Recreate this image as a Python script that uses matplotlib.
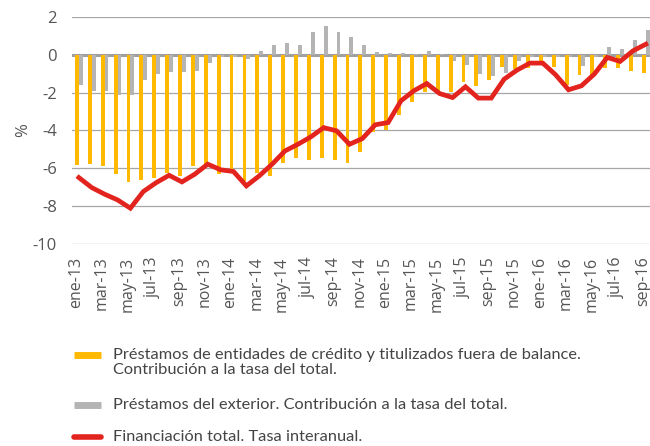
import matplotlib
matplotlib.use("Agg")
import matplotlib.pyplot as plt
import matplotlib.transforms as mtransforms
import numpy as np
from matplotlib.lines import Line2D

plt.rcParams['font.family'] = ['Lato', 'DejaVu Sans']
plt.rcParams['axes.unicode_minus'] = False

# monthly data, ene-13 .. sep-16
meses = ['ene', 'feb', 'mar', 'abr', 'may', 'jun', 'jul', 'ago', 'sep', 'oct', 'nov', 'dic']
months = [f'{m}-{y}' for y in (13, 14, 15, 16) for m in meses][:45]

credito = [-5.82, -5.75, -5.90, -6.31, -6.72, -6.61, -6.52, -6.23, -6.42, -5.90, -5.78, -6.31,
           -6.05, -6.67, -6.26, -6.40, -5.73, -5.43, -5.54, -5.43, -5.54, -5.73, -5.13, -4.06,
           -3.95, -3.19, -2.49, -1.95, -1.90, -1.99, -1.46, -1.64, -1.32, -0.62, -0.76, -0.72,
           -0.32, -0.63, -1.60, -1.05, -1.10, -0.72, -0.72, -0.85, -0.94]
exterior = [-1.60, -1.90, -1.90, -2.10, -2.10, -1.32, -1.02, -0.93, -0.93, -0.85, -0.44, -0.14,
            -0.14, -0.20, 0.21, 0.53, 0.63, 0.53, 1.22, 1.52, 1.22, 0.92, 0.53, 0.14,
            0.10, 0.10, 0.02, 0.21, 0.02, -0.35, -0.55, -1.02, -1.13, -0.94, -0.32, -0.14,
            -0.14, -0.14, -0.14, -0.58, -0.14, 0.42, 0.30, 0.80, 1.30]
total = [-6.49, -7.02, -7.37, -7.67, -8.11, -7.23, -6.76, -6.37, -6.72, -6.31, -5.78, -6.08,
         -6.17, -6.93, -6.40, -5.78, -5.08, -4.73, -4.34, -3.85, -4.02, -4.73, -4.43, -3.70,
         -3.58, -2.43, -1.90, -1.52, -2.05, -2.26, -1.69, -2.29, -2.29, -1.29, -0.81, -0.44,
         -0.44, -1.06, -1.85, -1.64, -1.02, -0.14, -0.35, 0.21, 0.56]

yellow = '#FFB900'
grey = '#B4B4B4'
red = '#E3231E'

fig = plt.figure(figsize=(6.5, 4.46), dpi=100)
ax = fig.add_axes([0.111, 0.453, 0.889, 0.509])

x = np.arange(len(months))
w = 0.3
ax.bar(x - w / 2, credito, width=w, color=yellow, zorder=2)
ax.bar(x + w / 2, exterior, width=w, color=grey, zorder=2)
ax.plot(x, total, color=red, lw=3.4, zorder=3, solid_joinstyle='miter')

ax.set_ylim(-10, 2)
ax.set_xlim(-0.52, 44.32)
ax.set_yticks(np.arange(-10, 3, 2))
ax.set_xticks(x[::2])
ax.set_xticklabels(months[::2], rotation=90, fontsize=11.5, color='#555555', family='Open Sans')
ax.tick_params(axis='x', length=0, pad=9)
ax.tick_params(axis='y', length=0, pad=11, labelsize=12, labelcolor='#555555')
# nudge the month labels a little to the left so the last one fits
shift = mtransforms.ScaledTranslation(-3 / 100, 0, fig.dpi_scale_trans)
for lbl in ax.get_xticklabels():
    lbl.set_transform(lbl.get_transform() + shift)
for lbl in ax.get_yticklabels():
    lbl.set_family('Open Sans')
for yv in range(-10, 3, 2):
    if yv != 0:
        ax.axhline(yv, color='#A6A6A6', lw=0.9, zorder=1)
ax.axhline(0, color='#A0A0A0', lw=2.2, zorder=1.5)
for s in ax.spines.values():
    s.set_visible(False)
fig.text(23 / 650, 1 - 130 / 446, '%', rotation=90, fontsize=12, color='#555555',
         ha='center', va='center', family='Open Sans')

# legend below the chart
items = [(yellow, 5, 'butt', 'Préstamos de entidades de crédito y titulizados fuera de balance.\nContribución a la tasa del total.', 355),
         (grey, 5, 'butt', 'Préstamos del exterior. Contribución a la tasa del total.', 405),
         (red, 4, 'round', 'Financiación total. Tasa interanual.', 437)]
for col, lw, cap, txt, ypx in items:
    yf = 1 - ypx / 446
    fig.add_artist(Line2D([74 / 650, 101 / 650], [yf, yf], color=col, lw=lw, solid_capstyle=cap))
    fig.text(113 / 650, yf + 7 / 446, txt, fontsize=11.8, color='#444444', va='top', linespacing=1.05)

fig.savefig('out.png', dpi=100)
